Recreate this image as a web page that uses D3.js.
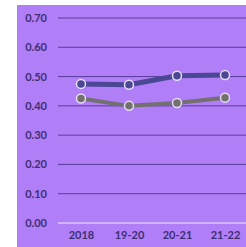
<!DOCTYPE html>
<html><head><meta charset="utf-8">
<script src="https://cdn.jsdelivr.net/npm/d3@7"></script>
<style>body{margin:0;background:#fff;}svg{display:block;}</style>
</head><body>
<script>
const categories = ["2018", "19-20", "20-21", "21-22"];
const seriesA = [0.475, 0.472, 0.503, 0.505];
const seriesB = [0.425, 0.400, 0.410, 0.428];
const yTicks = [0, 0.1, 0.2, 0.3, 0.4, 0.5, 0.6, 0.7];

const W = 246, H = 247;
const svg = d3.select("body").append("svg").attr("width", W).attr("height", H);
svg.append("rect").attr("x", 17).attr("y", 5).attr("width", W - 17).attr("height", H - 5).attr("fill", "#b07ef6");

const x = d3.scalePoint().domain(categories).range([57, 249]).padding(0.5);
const y = d3.scaleLinear().domain([0, 0.7]).range([223, 18]);

const grid = svg.append("g");
grid.selectAll("line").data(yTicks).join("line")
  .attr("x1", 58).attr("x2", W)
  .attr("y1", d => y(d)).attr("y2", d => y(d))
  .attr("stroke", d => d === 0 ? "#dcc6ff" : "#5a3c9c")
  .attr("stroke-width", d => d === 0 ? 1.5 : 1);

const yAxis = d3.axisLeft(y).tickValues(yTicks).tickFormat(d3.format(".2f")).tickSize(0).tickPadding(0);
const ya = svg.append("g").attr("transform", "translate(47,0)").call(yAxis);
ya.select(".domain").remove();
ya.selectAll("text").attr("font-family", "Lato").attr("font-weight", "bold").attr("font-size", 11).attr("fill", "#3e2f72");

const xAxis = d3.axisBottom(x).tickSize(0).tickPadding(0);
const xa = svg.append("g").attr("transform", "translate(0,231)").call(xAxis);
xa.select(".domain").remove();
xa.selectAll("text").attr("font-family", "Lato").attr("font-weight", "bold").attr("font-size", 11).attr("fill", "#3e2f72");

function drawSeries(vals, color, lw) {
  const line = d3.line().x((d, i) => x(categories[i])).y(d => y(d));
  svg.append("path").datum(vals).attr("d", line).attr("fill", "none")
    .attr("stroke", color).attr("stroke-width", lw).attr("stroke-linejoin", "round");
  svg.append("g").selectAll("circle").data(vals).join("circle")
    .attr("cx", (d, i) => x(categories[i])).attr("cy", d => y(d)).attr("r", 4.5)
    .attr("fill", color).attr("stroke", "#e6dcf5").attr("stroke-width", 1.5);
}
drawSeries(seriesB, "#72716f", 4);
drawSeries(seriesA, "#4a4795", 5);
</script>
</body></html>
